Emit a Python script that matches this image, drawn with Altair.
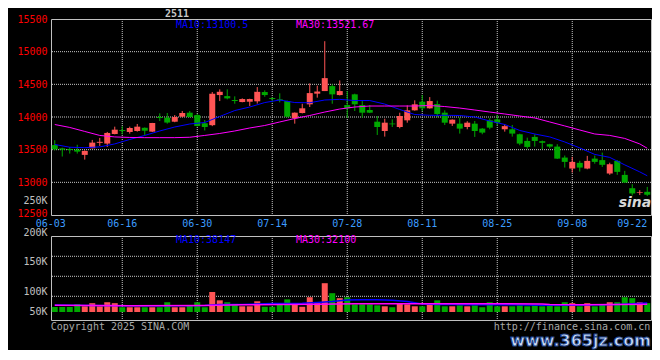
import altair as alt
import pandas as pd

# ---------------- data ----------------
DATES = ["06-03", "06-04", "06-05", "06-06", "06-09", "06-10", "06-11", "06-12", "06-13", "06-16",
         "06-17", "06-18", "06-19", "06-20", "06-23", "06-24", "06-25", "06-26", "06-27", "06-30",
         "07-01", "07-02", "07-03", "07-04", "07-07", "07-08", "07-09", "07-10", "07-11", "07-14",
         "07-15", "07-16", "07-17", "07-18", "07-21", "07-22", "07-23", "07-24", "07-25", "07-28",
         "07-29", "07-30", "07-31", "08-01", "08-04", "08-05", "08-06", "08-07", "08-08", "08-11",
         "08-12", "08-13", "08-14", "08-15", "08-18", "08-19", "08-20", "08-21", "08-22", "08-25",
         "08-26", "08-27", "08-28", "08-29", "09-01", "09-02", "09-03", "09-04", "09-05", "09-08",
         "09-09", "09-10", "09-11", "09-12", "09-15", "09-16", "09-17", "09-18", "09-19", "09-22"]

OPEN = [13570, 13520, 13510, 13500, 13420, 13522, 13605, 13593, 13740, 13800,
        13771, 13786, 13835, 13776, 14000, 13990, 13928, 14005, 14066, 14030,
        13904, 13875, 14336, 14320, 14260, 14229, 14234, 14240, 14382, 14290,
        14270, 14245, 13980, 14061, 14194, 14357, 14397, 14473, 14336, 14183,
        14347, 14183, 14107, 13928, 13786, 13900, 13847, 13949, 14102, 14234,
        14133, 14198, 14066, 13898, 13898, 13847, 13898, 13822, 13949, 13964,
        13812, 13812, 13736, 13634, 13695, 13630, 13583, 13547, 13379, 13211,
        13298, 13211, 13363, 13340, 13135, 13328, 13114, 12910, 12840, 12855]

HIGH = [13645, 13530, 13540, 13575, 13490, 13649, 13680, 13771, 13852, 13858,
        13852, 13893, 13840, 13910, 14056, 14061, 14030, 14092, 14092, 14045,
        13954, 14382, 14423, 14423, 14316, 14285, 14280, 14458, 14408, 14300,
        14363, 14250, 14070, 14203, 14515, 14480, 15160, 14500, 14560, 14397,
        14357, 14255, 14183, 14015, 13974, 13964, 14066, 14178, 14255, 14336,
        14305, 14250, 14102, 13964, 13990, 13935, 13939, 13830, 13980, 14030,
        13888, 13878, 13745, 13684, 13735, 13640, 13590, 13583, 13410, 13390,
        13330, 13405, 13410, 13455, 13300, 13340, 13175, 12972, 12880, 12930]

LOW = [13490, 13395, 13440, 13440, 13348, 13520, 13557, 13542, 13735, 13735,
       13745, 13776, 13725, 13770, 13939, 13898, 13920, 13995, 13995, 13855,
       13794, 13860, 14244, 14270, 14203, 14225, 14168, 14205, 14310, 14225,
       14225, 13995, 13898, 14055, 14153, 14296, 14397, 14203, 14330, 13985,
       14092, 13990, 14060, 13725, 13700, 13847, 13827, 13913, 14097, 14092,
       14128, 13995, 13878, 13863, 13746, 13812, 13695, 13736, 13812, 13870,
       13776, 13700, 13568, 13516, 13547, 13507, 13520, 13357, 13226, 13150,
       13165, 13200, 13285, 13236, 13115, 13115, 12990, 12800, 12805, 12790]

CLOSE = [13505, 13500, 13495, 13470, 13481, 13608, 13620, 13756, 13806, 13785,
         13832, 13852, 13790, 13908, 13985, 13915, 14000, 14061, 14000, 13863,
         13847, 14356, 14386, 14285, 14245, 14275, 14275, 14385, 14336, 14275,
         14255, 14005, 14066, 14133, 14366, 14390, 14595, 14347, 14397, 14133,
         14194, 14066, 14066, 13847, 13913, 13888, 14015, 14102, 14194, 14133,
         14244, 14046, 13913, 13959, 13822, 13913, 13786, 13761, 13837, 13913,
         13860, 13746, 13593, 13542, 13634, 13605, 13547, 13363, 13313, 13313,
         13226, 13328, 13313, 13268, 13277, 13160, 12997, 12830, 12850, 12810]

VOLUME_K = [21, 21, 21, 33, 24, 37, 24, 41, 37, 20,
            20, 20, 20, 20, 20, 41, 20, 20, 28, 41,
            20, 84, 49, 41, 34, 24, 24, 45, 22, 22,
            34, 53, 32, 22, 62, 37, 121, 79, 58, 62,
            32, 32, 32, 28, 24, 20, 34, 32, 24, 24,
            32, 49, 24, 24, 28, 24, 28, 20, 41, 24,
            24, 24, 28, 24, 28, 24, 28, 24, 41, 37,
            24, 37, 24, 32, 41, 41, 62, 58, 41, 37]

# moving averages (price), read at every second trading day
MA_DAYS = ["06-03", "06-05", "06-09", "06-11", "06-13", "06-17", "06-19", "06-23", "06-25", "06-27",
           "07-01", "07-03", "07-07", "07-09", "07-11", "07-15", "07-17", "07-21", "07-23", "07-25",
           "07-29", "07-31", "08-04", "08-06", "08-08", "08-12", "08-14", "08-18", "08-20", "08-22",
           "08-26", "08-28", "09-01", "09-03", "09-05", "09-09", "09-11", "09-15", "09-17", "09-19",
           "09-22"]
MA10 = [13580, 13537, 13531, 13542, 13588, 13656, 13718, 13786, 13847, 13893,
        13916, 14008, 14099, 14153, 14221, 14260, 14221, 14218, 14260, 14270,
        14252, 14252, 14198, 14115, 14038, 14026, 14026, 14023, 14000, 13939,
        13885, 13794, 13740, 13695, 13618, 13527, 13427, 13382, 13267, 13160,
        13100.5]
MA30 = [13885, 13840, 13779, 13718, 13695, 13687, 13684, 13684, 13684, 13690,
        13718, 13748, 13786, 13832, 13870, 13924, 13977, 14023, 14076, 14122,
        14153, 14168, 14168, 14168, 14168, 14176, 14160, 14137, 14107, 14076,
        14046, 14015, 13985, 13924, 13863, 13801, 13740, 13718, 13672, 13588,
        13521.67]

# moving averages (volume, thousands)
VMA10_DAYS = ["06-03", "06-10", "06-17", "06-24", "07-01", "07-03", "07-08", "07-10", "07-14", "07-16",
              "07-18", "07-22", "07-24", "07-28", "07-30", "08-01", "08-05", "08-07", "08-11", "08-13",
              "08-15", "08-19", "08-21", "08-25", "08-27", "08-29", "09-02", "09-04", "09-08", "09-10",
              "09-12", "09-16", "09-18", "09-22"]
VMA10 = [29, 27, 26, 26, 27, 31, 32, 34, 36, 36, 37, 40, 44, 50, 51, 51, 49, 44, 34, 32,
         31, 30, 30, 30, 30, 29, 28, 28, 28, 29, 30, 32, 35, 38.147]
VMA30_DAYS = ["06-03", "06-17", "07-01", "07-08", "07-15", "07-22", "07-29", "08-05", "08-12",
              "08-19", "08-26", "09-02", "09-03", "09-09", "09-16", "09-22"]
VMA30 = [28, 26, 27, 30, 31, 33, 35, 35, 35, 35, 35, 34, 31, 30, 31, 32.1]

TITLE = "2511"
PRICE_MA10_TEXT = "MA10:13100.5"
PRICE_MA30_TEXT = "MA30:13521.67"
VOL_MA10_TEXT = "MA10:38147"
VOL_MA30_TEXT = "MA30:32100"
FOOTER_LEFT = "Copyright 2025 SINA.COM"
FOOTER_RIGHT = "http://finance.sina.com.cn"
WATERMARK = "www.365jz.com"
LOGO = "sina"

PRICE_TICKS = [12500, 12717, 13000, 13500, 14000, 14500, 15000, 15500]
STRAY_TICK = 12717
STRAY_TEXT = "250K"
PRICE_GRID = [13000, 13500, 14000, 14500, 15000]
DATE_TICKS = ["06-03", "06-16", "06-30", "07-14", "07-28", "08-11", "08-25", "09-08", "09-22"]
DATE_GRID = ["06-16", "06-30", "07-14", "07-28", "08-11", "08-25", "09-08"]
VOL_TICK_AT = [3, 85, 211, 319]
VOL_TICK_TEXT = ["50K", "100K", "150K", "200K"]
VOL_GRID = [66, 150, 234]

# ---------------- style ----------------
FONT = "DejaVu Sans Mono"
RED = "#ff5555"
GREEN = "#00a800"
BLUE = "#0000ff"
MAGENTA = "#ff00ff"
GRAY = "#c0c0c0"
GRIDC = "#c8c8c8"
W, HP, HV = 600, 196, 84

df = pd.DataFrame({"date": DATES, "open": OPEN, "high": HIGH, "low": LOW,
                   "close": CLOSE, "vol": VOLUME_K})
df["dir"] = ["up" if c >= o else "down" for o, c in zip(OPEN, CLOSE)]

xscale = alt.Scale(type="band", domain=DATES, paddingInner=0, paddingOuter=0)
color = alt.Color("dir:N", scale=alt.Scale(domain=["up", "down"], range=[RED, GREEN]), legend=None)

price_x_axis = alt.Axis(
    values=DATE_TICKS, labelColor="#3c9cff", labelFont=FONT, labelFontSize=10,
    ticks=False, domain=False, grid=False, labelPadding=3, labelAngle=0,
    labelOverlap=False,
    labelAlign={"condition": {"test": f"datum.value == '{DATES[-1]}'", "value": "right"}, "value": "center"},
    labelOffset={"condition": {"test": f"datum.value == '{DATES[0]}'", "value": -4}, "value": 0},
)
price_scale = alt.Scale(domain=[12500, 15500], nice=False, zero=False)
price_y_axis = alt.Axis(
    values=PRICE_TICKS, format="d", labelFont=FONT, labelFontSize=10,
    ticks=False, domain=False, grid=False, labelPadding=4, labelOverlap=False,
    labelExpr=f"datum.value == {STRAY_TICK} ? '{STRAY_TEXT}' : datum.label",
    labelColor={"condition": {"test": f"datum.value == {STRAY_TICK}", "value": GRAY}, "value": "#ff0000"},
    labelOffset={"condition": {"test": f"datum.value == {PRICE_TICKS[0]}", "value": -2}, "value": 0},
)

PX = alt.X("date:O", scale=xscale, axis=price_x_axis, title=None)


def PY(field):
    return alt.Y(field, scale=price_scale, axis=price_y_axis, title=None)


hgrid = alt.Chart(pd.DataFrame({"level": PRICE_GRID})).mark_rule(
    color=GRIDC, strokeDash=[1, 1], strokeWidth=1).encode(y=PY("level:Q"))
vgrid = alt.Chart(pd.DataFrame({"date": DATE_GRID})).mark_rule(
    color=GRIDC, strokeDash=[1, 1], strokeWidth=1).encode(x=PX)
wicks = alt.Chart(df).mark_rule(strokeWidth=1).encode(
    x=PX, y=PY("low:Q"), y2="high:Q", color=color)
bodies = alt.Chart(df).mark_bar(size=6).encode(
    x=PX, y=PY("open:Q"), y2="close:Q", color=color)
ma10 = alt.Chart(pd.DataFrame({"date": MA_DAYS, "v": MA10})).mark_line(
    color=BLUE, strokeWidth=1).encode(x=PX, y=PY("v:Q"))
ma30 = alt.Chart(pd.DataFrame({"date": MA_DAYS, "v": MA30})).mark_line(
    color=MAGENTA, strokeWidth=1).encode(x=PX, y=PY("v:Q"))


def label(text, x, y, col, size=10, **kw):
    return alt.Chart(pd.DataFrame({"t": [text]})).mark_text(
        font=kw.pop("font", FONT), fontSize=size, color=col, align=kw.pop("align", "left"),
        baseline="middle", **kw).encode(x=alt.value(x), y=alt.value(y), text="t:N")


price = alt.layer(
    hgrid, vgrid, wicks, bodies, ma10, ma30,
    label(TITLE, 114, -5, "#c8c8c8", fontWeight="bold"),
    label(PRICE_MA10_TEXT, 125, 6, BLUE),
    label(PRICE_MA30_TEXT, 245, 6, MAGENTA),
    label(LOGO, 584, 184, "#d8d8d8", size=14, align="center", font="DejaVu Sans",
          fontStyle="italic", fontWeight="bold"),
).properties(width=W, height=HP)

# ---------------- volume panel ----------------
vol_scale = alt.Scale(domain=[-33.6, 319.2], nice=False, zero=False)
vol_expr = " : ".join(f"datum.value == {v} ? '{t}'" for v, t in zip(VOL_TICK_AT[:-1], VOL_TICK_TEXT[:-1]))
vol_expr += f" : '{VOL_TICK_TEXT[-1]}'"
vol_y_axis = alt.Axis(
    values=VOL_TICK_AT, labelExpr=vol_expr, labelColor=GRAY, labelFont=FONT, labelFontSize=10,
    ticks=False, domain=False, grid=False, labelPadding=4, labelOverlap=False,
    labelOffset={"condition": {"test": "datum.value > 300", "value": -4}, "value": 0},
)
vol_x_axis = alt.Axis(
    values=[DATES[0], DATES[-1]],
    labelExpr=f"datum.value == '{DATES[0]}' ? '{FOOTER_LEFT}' : '{FOOTER_RIGHT}'",
    labelColor="#a8a8a8", labelFont=FONT, labelFontSize=10, labelAngle=0,
    ticks=False, domain=False, grid=False, labelPadding=1, labelOverlap=False,
    labelAlign={"condition": {"test": f"datum.value == '{DATES[0]}'", "value": "left"}, "value": "right"},
    labelOffset={"condition": {"test": f"datum.value == '{DATES[0]}'", "value": -4}, "value": 3},
)
VX = alt.X("date:O", scale=xscale, axis=vol_x_axis, title=None)


def VY(field):
    return alt.Y(field, scale=vol_scale, axis=vol_y_axis, title=None)


vhgrid = alt.Chart(pd.DataFrame({"level": VOL_GRID})).mark_rule(
    color=GRIDC, strokeDash=[1, 1], strokeWidth=1).encode(y=VY("level:Q"))
vvgrid = alt.Chart(pd.DataFrame({"date": DATE_GRID})).mark_rule(
    color=GRIDC, strokeDash=[1, 1], strokeWidth=1).encode(x=VX)
vbars = alt.Chart(df).mark_bar(size=6).encode(x=VX, y=VY("vol:Q"), color=color)
vma10 = alt.Chart(pd.DataFrame({"date": VMA10_DAYS, "v": VMA10})).mark_line(
    color=BLUE, strokeWidth=1.5).encode(x=VX, y=VY("v:Q"))
vma30 = alt.Chart(pd.DataFrame({"date": VMA30_DAYS, "v": VMA30})).mark_line(
    color=MAGENTA, strokeWidth=1.5).encode(x=VX, y=VY("v:Q"))

volume = alt.layer(
    vhgrid, vvgrid, vbars, vma10, vma30,
    label(VOL_MA10_TEXT, 125, 4, BLUE),
    label(VOL_MA30_TEXT, 245, 4, MAGENTA),
    label(WATERMARK, 600, 105, "#d0e0f8", size=16, align="right", font="DejaVu Sans",
          fontWeight="bold", stroke="#24468f", strokeWidth=1),
).properties(width=W, height=HV)

chart = alt.vconcat(price, volume, spacing=21, bounds="flush").properties(
    background="black",
    padding={"left": 8, "top": 0, "right": 0, "bottom": 0},
).configure_view(stroke=GRAY, strokeWidth=1)

chart.save("out.html", embed_options={"renderer": "svg", "actions": False})
